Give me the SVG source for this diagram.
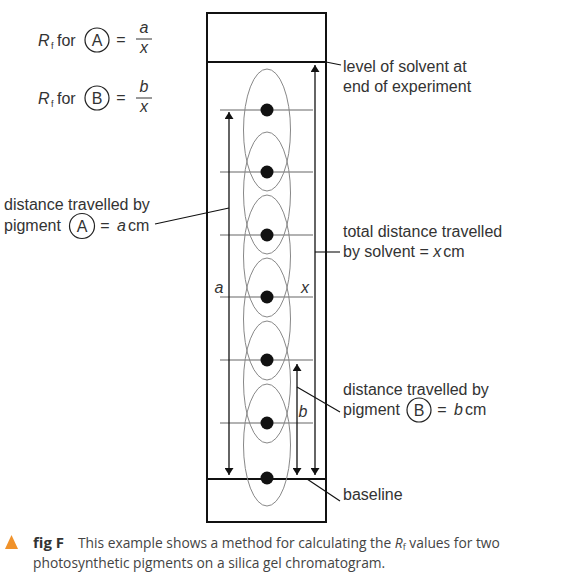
<svg xmlns="http://www.w3.org/2000/svg" width="571" height="581" viewBox="0 0 571 581">
<style>
text{font-family:"Liberation Sans",Arial,sans-serif;font-size:16px;fill:#333}
.it{font-style:italic}
.sub{font-size:9px}
.cap{font-family:"Open Sans","Noto Sans",sans-serif;font-size:13.8px;fill:#444}
.frame{fill:none;stroke:#111;stroke-width:2}
.gl{stroke:#999;stroke-width:1.5}
.ell{fill:none;stroke:#888;stroke-width:1}
.arr{stroke:#111;stroke-width:1.3;marker-start:url(#ah);marker-end:url(#ah)}
.lead{stroke:#111;stroke-width:1.1;fill:none}
.circ{fill:none;stroke:#222;stroke-width:1.2}
.spot{fill:#111}
</style>
<defs>
<marker id="ah" viewBox="0 0 10 10" refX="10" refY="5" markerWidth="7" markerHeight="9" markerUnits="userSpaceOnUse" orient="auto-start-reverse" preserveAspectRatio="none">
<path d="M0,0 L10,5 L0,10 z" fill="#111"/>
</marker>
</defs>

<g id="formulaA">
<text x="38" y="46" class="it" font-size="17">R</text><text x="51" y="49" class="sub">f</text>
<text x="57" y="46">for</text>
<circle class="circ" cx="97" cy="40" r="12"/><text x="97" y="46" text-anchor="middle">A</text>
<text x="121" y="45" text-anchor="middle">=</text>
<text x="144" y="33" class="it" text-anchor="middle">a</text>
<line x1="136" y1="39" x2="152" y2="39" stroke="#333" stroke-width="1"/>
<text x="144" y="53" class="it" text-anchor="middle">x</text>
</g>

<g id="formulaB">
<text x="38" y="104" class="it" font-size="17">R</text><text x="51" y="107" class="sub">f</text>
<text x="57" y="104">for</text>
<circle class="circ" cx="97" cy="98" r="12"/><text x="97" y="104" text-anchor="middle">B</text>
<text x="121" y="103" text-anchor="middle">=</text>
<text x="144" y="92" class="it" text-anchor="middle">b</text>
<line x1="136" y1="98" x2="152" y2="98" stroke="#333" stroke-width="1"/>
<text x="144" y="112" class="it" text-anchor="middle">x</text>
</g>

<g id="chromatogram">
<rect class="frame" x="207" y="13" width="119" height="509"/>
<line x1="207" y1="62" x2="326" y2="62" stroke="#111" stroke-width="2"/>
<line x1="207" y1="479" x2="326" y2="479" stroke="#111" stroke-width="2"/>
<g class="gl">
<line x1="220" y1="110" x2="313" y2="110"/>
<line x1="220" y1="172" x2="313" y2="172"/>
<line x1="220" y1="235" x2="313" y2="235"/>
<line x1="220" y1="297" x2="313" y2="297"/>
<line x1="220" y1="360" x2="313" y2="360"/>
<line x1="220" y1="423" x2="313" y2="423"/>
</g>
<g class="ell">
<ellipse cx="267" cy="130" rx="23.5" ry="61"/>
<ellipse cx="267" cy="193" rx="23.5" ry="61"/>
<ellipse cx="267" cy="256" rx="23.5" ry="61"/>
<ellipse cx="267" cy="319" rx="23.5" ry="61"/>
<ellipse cx="267" cy="382" rx="23.5" ry="61"/>
<ellipse cx="267" cy="445" rx="23.5" ry="61"/>
</g>
<g class="spot">
<circle cx="267" cy="110" r="6.5"/>
<circle cx="267" cy="172" r="6.5"/>
<circle cx="267" cy="235" r="6.5"/>
<circle cx="267" cy="297" r="6.5"/>
<circle cx="267" cy="360" r="6.5"/>
<circle cx="267" cy="423" r="6.5"/>
<circle cx="267" cy="478" r="6.5"/>
</g>
</g>

<g id="connectors">
<line class="arr" x1="229" y1="475" x2="229" y2="112"/>
<line class="arr" x1="315" y1="475" x2="315" y2="65"/>
<line class="arr" x1="297" y1="475" x2="297" y2="364"/>
<line class="lead" x1="155" y1="224" x2="229" y2="208"/>
<line class="lead" x1="326" y1="62" x2="341" y2="65"/>
<line class="lead" x1="315" y1="252" x2="340" y2="252"/>
<line class="lead" x1="297" y1="387" x2="340" y2="412"/>
<line class="lead" x1="307" y1="479" x2="340" y2="501"/>
</g>

<g id="arrowLabels">
<text x="219" y="293" class="it" text-anchor="middle">a</text>
<text x="305" y="293" class="it" text-anchor="middle">x</text>
<text x="303" y="417" class="it" text-anchor="middle">b</text>
</g>

<g id="labelA">
<text x="4" y="210">distance travelled by</text>
<text x="4" y="231">pigment</text>
<circle class="circ" cx="82" cy="226" r="12.5"/><text x="82" y="232" text-anchor="middle">A</text>
<text x="105" y="231" text-anchor="middle">=</text>
<text x="117" y="231"><tspan class="it">a</tspan><tspan dx="2">cm</tspan></text>
</g>

<g id="labelSolvent">
<text x="343" y="72">level of solvent at</text>
<text x="343" y="92">end of experiment</text>
</g>

<g id="labelTotal">
<text x="343" y="237">total distance travelled</text>
<text x="343" y="257">by solvent <tspan>=</tspan> <tspan class="it">x</tspan><tspan dx="2">cm</tspan></text>
</g>

<g id="labelB">
<text x="343" y="395">distance travelled by</text>
<text x="343" y="415">pigment</text>
<circle class="circ" cx="419" cy="410" r="12"/><text x="419" y="416" text-anchor="middle">B</text>
<text x="442" y="415" text-anchor="middle">=</text>
<text x="454" y="415"><tspan class="it">b</tspan><tspan dx="2">cm</tspan></text>
</g>

<g id="labelBaseline">
<text x="343" y="500">baseline</text>
</g>

<g id="caption">
<polygon points="5,549 18,549 11.5,535" fill="#f0922b"/>
<text x="33" y="548" class="cap"><tspan font-weight="bold" font-size="15" fill="#333">fig F</tspan><tspan x="78">This example shows a method for calculating the </tspan><tspan font-style="italic">R</tspan><tspan font-size="9" dy="2">f</tspan><tspan dy="-2"> values for two</tspan></text>
<text x="33" y="568" class="cap">photosynthetic pigments on a silica gel chromatogram.</text>
</g>
</svg>
